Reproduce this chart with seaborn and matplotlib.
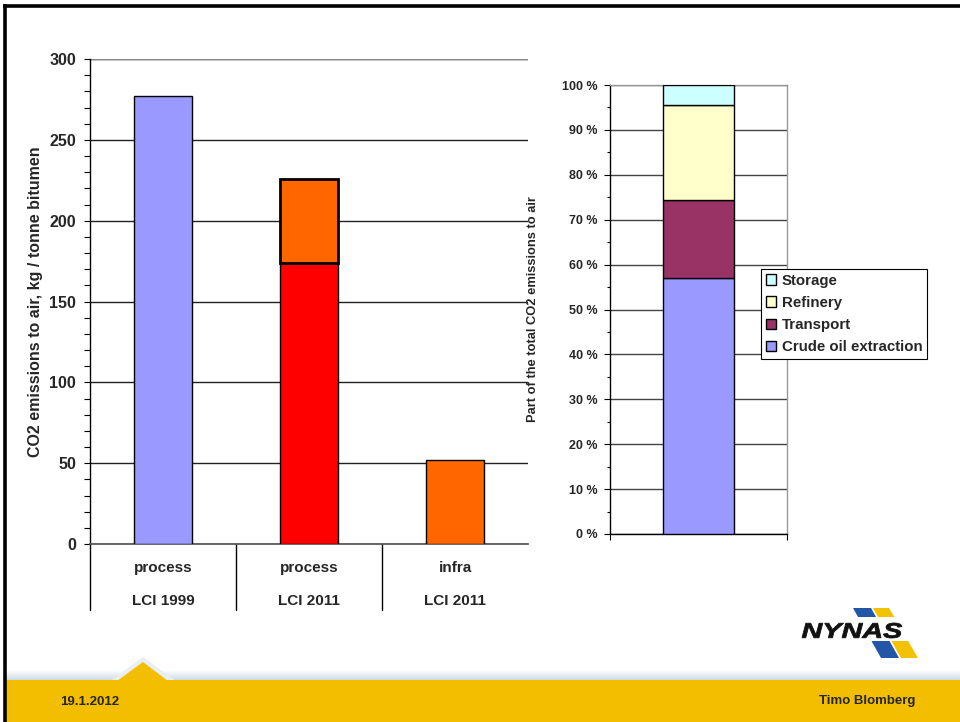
import numpy as np
import pandas as pd
import matplotlib
matplotlib.use("Agg")
import matplotlib.pyplot as plt
import seaborn as sns
from matplotlib.patches import Rectangle, Polygon, PathPatch
from matplotlib.textpath import TextPath
from matplotlib.font_manager import FontProperties
from matplotlib.transforms import Affine2D
from matplotlib.ticker import MultipleLocator, FuncFormatter

# ---------------- data ----------------
categories = ["process", "process", "infra"]
periods = ["LCI 1999", "LCI 2011", "LCI 2011"]
lower_values = [277, 174, 52]
upper_values = [0, 52, 0]

components = ["Crude oil extraction", "Transport", "Refinery", "Storage"]
shares = [57.0, 17.3, 21.3, 4.4]

footer_date = "19.1.2012"
footer_author = "Timo Blomberg"

# ---------------- style ----------------
sns.set_theme(style="white")
plt.rcParams["font.family"] = ["Liberation Sans", "DejaVu Sans"]
plt.rcParams["font.weight"] = "bold"

W, H = 960, 722
fig = plt.figure(figsize=(W / 100, H / 100), dpi=100)
fig.patch.set_facecolor("white")

def px_axes(x0, y0, x1, y1, **kw):
    return fig.add_axes([x0 / W, 1 - y1 / H, (x1 - x0) / W, (y1 - y0) / H], **kw)

# decoration overlay (full figure, pixel coords)
deco = px_axes(0, 0, W, H, zorder=0)
deco.set_xlim(0, W)
deco.set_ylim(H, 0)
deco.axis("off")

yellow = "#F4BE00"
grad = np.linspace(0, 1, 20).reshape(-1, 1)
shadow_cmap = matplotlib.colors.LinearSegmentedColormap.from_list("sh", ["#ffffff", "#c9d8e3"])
deco.imshow(grad, extent=(5, W, 681, 670), cmap=shadow_cmap, aspect="auto", zorder=1)
deco.add_patch(Polygon([(110, 681), (143, 657), (176, 681)], closed=True,
                       facecolor="#e8eef3", edgecolor="none", zorder=1.5))
deco.add_patch(Rectangle((5, 680), W - 5, H - 680, facecolor=yellow, edgecolor="none", zorder=2))
deco.add_patch(Polygon([(117, 681), (143, 662), (168, 681)], closed=True,
                       facecolor=yellow, edgecolor="none", zorder=2))
deco.text(60, 702, footer_date, fontsize=9.5, fontweight="bold", ha="left", va="center", zorder=3)
deco.text(915, 701, footer_author, fontsize=9.5, fontweight="bold", ha="right", va="center", zorder=3)

# border
deco.plot([3, W], [5.5, 5.5], color="black", lw=2.6, solid_capstyle="butt", zorder=4)
deco.plot([5, 5], [4, H], color="black", lw=2.6, solid_capstyle="butt", zorder=4)

# NYNAS logo
deco.add_patch(Polygon([(853, 608), (871, 608), (899, 658), (881, 658)], closed=True,
                       facecolor="#2456A8", edgecolor="none", zorder=2))
deco.add_patch(Polygon([(873, 608), (889, 608), (918, 658), (901, 658)], closed=True,
                       facecolor="#F2C200", edgecolor="none", zorder=2))
deco.add_patch(Rectangle((800, 617), 110, 24, facecolor="white", edgecolor="none", zorder=2.5))
tp = TextPath((0, 0), "NYNAS", size=1,
              prop=FontProperties(family="Liberation Sans", weight="bold", style="italic"))
bb = tp.get_extents()
tr = (Affine2D().translate(-bb.x0, -bb.y0)
      .scale(100 / bb.width, -15 / bb.height)
      .translate(802, 638))
deco.add_patch(PathPatch(tr.transform_path(tp), facecolor="#111111", edgecolor="#111111",
                         lw=0.6, zorder=3))

# ---------------- left chart ----------------
xkeys = [f"{c}\n{p}" for c, p in zip(categories, periods)]
df_left = pd.DataFrame({"key": xkeys, "lower": lower_values, "upper": upper_values})
bar_colors = ["#9999FF", "#FF0000", "#FF6600"]
orange = "#FF6600"

ax = px_axes(90, 59, 528, 544, zorder=2)
ax.set_facecolor("none")
sns.barplot(data=df_left, x="key", y="lower", hue="key", palette=bar_colors, order=xkeys,
            hue_order=xkeys, saturation=1, legend=False, width=0.4, edgecolor="black",
            linewidth=1, ax=ax, zorder=3)
stack = df_left[df_left["upper"] > 0]
for _, row in stack.iterrows():
    sns.barplot(x=[row["key"]], y=[row["upper"]], order=xkeys, bottom=row["lower"],
                color=orange, saturation=1, width=0.4, edgecolor="black", linewidth=2,
                ax=ax, zorder=3)
ax.set_xlim(-0.5, 2.5)
ax.set_ylim(0, 300)
ax.yaxis.set_major_locator(MultipleLocator(50))
ax.yaxis.set_minor_locator(MultipleLocator(10))
ax.grid(axis="y", which="major", color="#222222", lw=1, zorder=0)
ax.set_axisbelow(True)
ax.tick_params(axis="y", which="both", left=True, direction="out", length=4, width=0.8,
               color="black", pad=6, labelsize=11.5)
ax.tick_params(axis="x", bottom=False, labelbottom=False)
for lab in ax.get_yticklabels():
    lab.set_fontweight("bold")
for s in ["top", "right"]:
    ax.spines[s].set_visible(False)
ax.spines["left"].set_color("black")
ax.spines["bottom"].set_color("#555555")
ax.spines["left"].set_linewidth(1)
ax.set_xlabel("")
ax.set_ylabel("CO2 emissions to air, kg / tonne bitumen", fontsize=11.5, fontweight="bold")
ax.yaxis.set_label_coords(-0.107, 0.5)
ax.axhline(300, color="#888888", lw=1, zorder=1)
for i, (c, p) in enumerate(zip(categories, periods)):
    ax.text(i, -15, c, ha="center", va="center", fontsize=11, fontweight="bold",
            transform=ax.transData, clip_on=False)
    ax.text(i, -35.5, p, ha="center", va="center", fontsize=11, fontweight="bold",
            transform=ax.transData, clip_on=False)
for xv in [-0.5, 0.5, 1.5]:
    ax.plot([xv, xv], [0, -41], color="black", lw=1, clip_on=False, zorder=1)
ax.set_ylim(0, 300)

# ---------------- right chart ----------------
seg_colors = ["#9999FF", "#993366", "#FFFFCC", "#CCFFFF"]
ax2 = px_axes(610, 85, 787, 534, zorder=2)
ax2.set_facecolor("none")
bottom = 0.0
for name, val, col in zip(components, shares, seg_colors):
    sns.barplot(x=["total"], y=[val], bottom=bottom, color=col, saturation=1, width=0.4,
                edgecolor="black", linewidth=1, ax=ax2, zorder=3, label=name)
    bottom += val
if ax2.get_legend() is not None:
    ax2.get_legend().remove()
ax2.set_xlim(-0.5, 0.5)
ax2.set_ylim(0, 100)
ax2.yaxis.set_major_locator(MultipleLocator(10))
ax2.yaxis.set_minor_locator(MultipleLocator(5))
ax2.yaxis.set_major_formatter(FuncFormatter(lambda v, _: f"{int(round(v))} %"))
ax2.grid(axis="y", which="major", color="#444444", lw=1, zorder=0)
ax2.set_axisbelow(True)
ax2.tick_params(axis="y", which="major", left=True, direction="out", length=4, width=0.8,
                color="black", pad=5, labelsize=9)
ax2.tick_params(axis="y", which="minor", left=True, direction="out", length=2.5, width=0.8,
                color="black")
ax2.set_xticks([-0.5, 0.5])
ax2.tick_params(axis="x", bottom=True, labelbottom=False, direction="out", length=4,
                width=0.8, color="black")
for lab in ax2.get_yticklabels():
    lab.set_fontweight("bold")
ax2.spines["left"].set_color("black")
ax2.spines["bottom"].set_color("black")
ax2.spines["top"].set_color("#999999")
ax2.spines["right"].set_color("#999999")
for s in ax2.spines.values():
    s.set_linewidth(1)
ax2.set_xlabel("")
ax2.set_ylabel("Part of the total CO2 emissions to air", fontsize=9.3, fontweight="bold")
ax2.yaxis.set_label_coords(-0.40, 0.5)

h, l = ax2.get_legend_handles_labels()
leg = fig.legend(h[::-1], l[::-1], loc="upper left",
                 bbox_to_anchor=(761 / W, 1 - 269 / H), frameon=True, fancybox=False,
                 edgecolor="black", framealpha=1,
                 prop={"weight": "bold", "size": 10.8},
                 handlelength=0.7, handleheight=0.7, handletextpad=0.4,
                 labelspacing=0.55, borderpad=0.3, borderaxespad=0)
leg.get_frame().set_linewidth(0.8)

fig.savefig("out.png", dpi=100)
